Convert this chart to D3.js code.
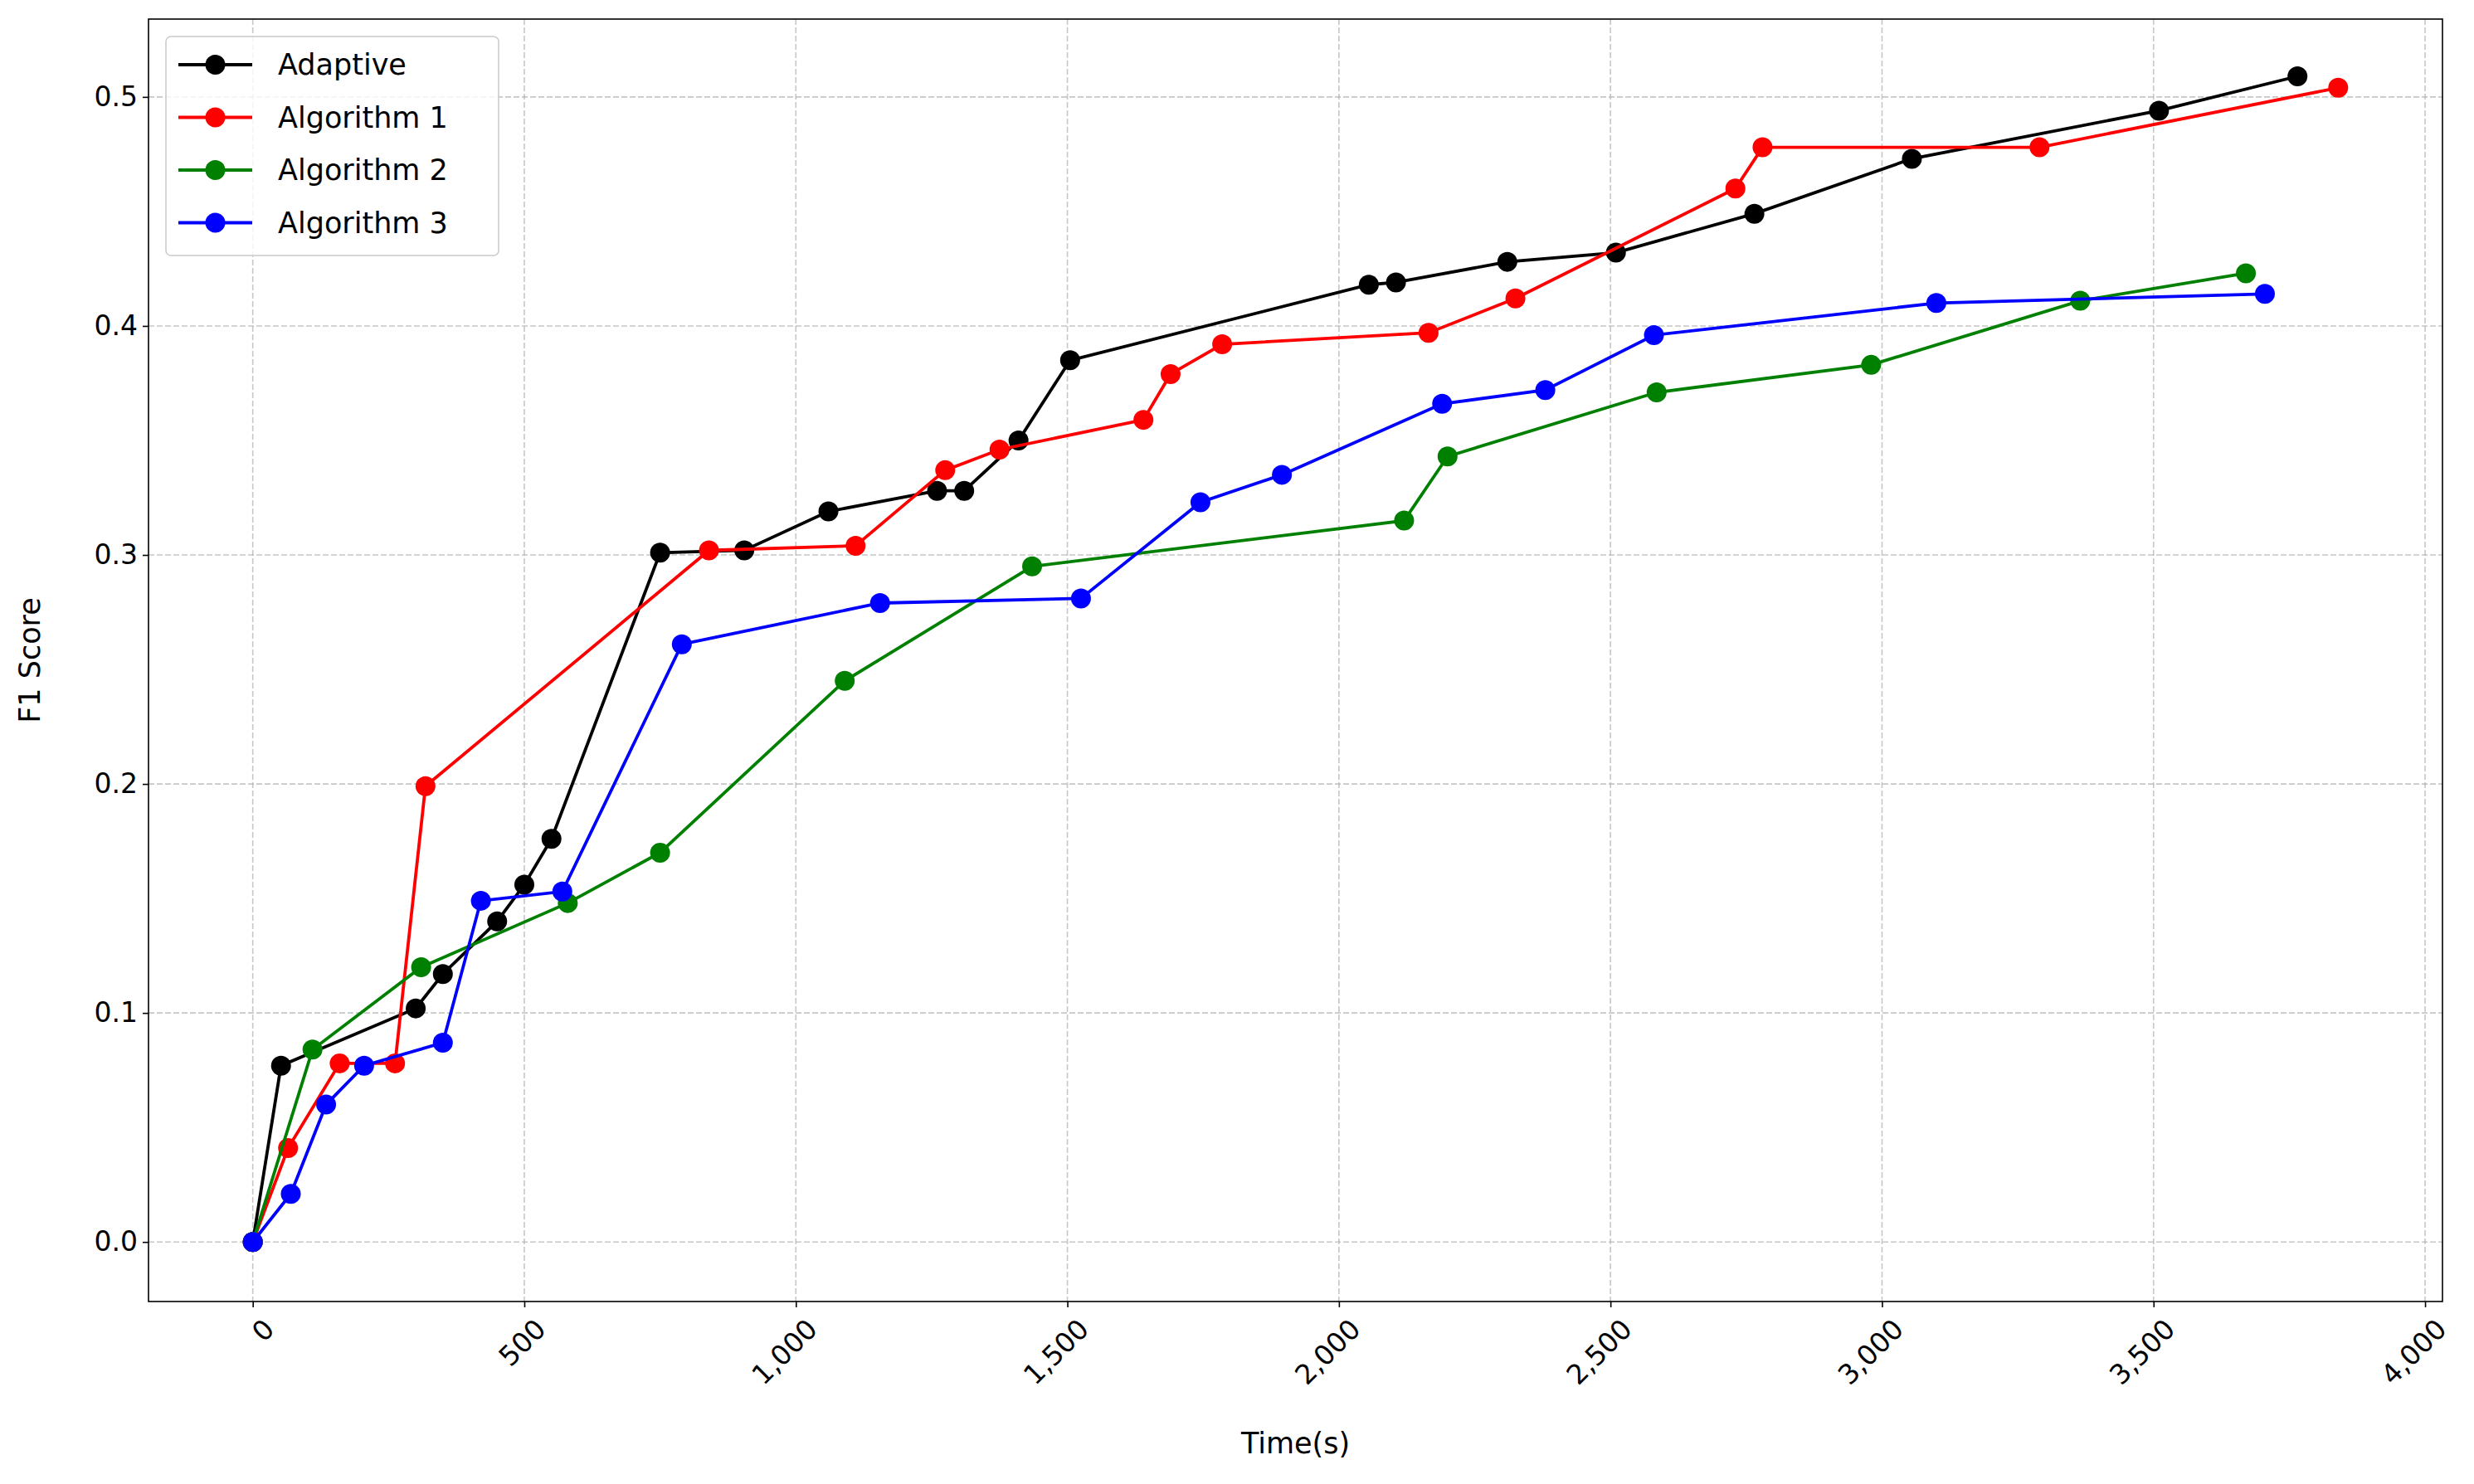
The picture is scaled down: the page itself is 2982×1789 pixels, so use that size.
<!DOCTYPE html>
<html>
<head>
<meta charset="utf-8">
<script src="https://cdn.jsdelivr.net/npm/d3@7"></script>
<style>
  body { margin: 0; background: #fff; }
  text { font-family: "DejaVu Sans", sans-serif; }
</style>
</head>
<body>
<svg id="chart" width="2982" height="1789"></svg>
<script>
// series values
const adaptiveX = [0, 52, 300, 350, 450, 500, 550, 750, 905, 1060, 1260, 1310, 1410, 1505, 2055, 2105, 2310, 2510, 2765, 3055, 3510, 3765];
const adaptiveY = [0, 0.077, 0.102, 0.117, 0.140, 0.156, 0.176, 0.301, 0.302, 0.319, 0.328, 0.328, 0.350, 0.385, 0.418, 0.419, 0.428, 0.432, 0.449, 0.473, 0.494, 0.509];
const algo1X = [0, 65, 160, 262, 318, 840, 1110, 1275, 1375, 1640, 1690, 1785, 2165, 2325, 2730, 2780, 3290, 3840];
const algo1Y = [0, 0.041, 0.078, 0.078, 0.199, 0.302, 0.304, 0.337, 0.346, 0.359, 0.379, 0.392, 0.397, 0.412, 0.460, 0.478, 0.478, 0.504];
const algo2X = [0, 110, 310, 580, 750, 1090, 1435, 2120, 2200, 2585, 2980, 3365, 3670];
const algo2Y = [0, 0.084, 0.120, 0.148, 0.170, 0.245, 0.295, 0.315, 0.343, 0.371, 0.383, 0.411, 0.423];
const algo3X = [0, 70, 135, 205, 350, 420, 570, 790, 1155, 1525, 1745, 1895, 2190, 2380, 2580, 3100, 3705];
const algo3Y = [0, 0.021, 0.060, 0.077, 0.087, 0.149, 0.153, 0.261, 0.279, 0.281, 0.323, 0.335, 0.366, 0.372, 0.396, 0.410, 0.414];

const seriesNames = ["Adaptive", "Algorithm 1", "Algorithm 2", "Algorithm 3"];
const seriesColors = ["black", "red", "green", "blue"];
const xTicks = [0, 500, 1000, 1500, 2000, 2500, 3000, 3500, 4000];
const yTicks = [0, 0.1, 0.2, 0.3, 0.4, 0.5];

const series = [
  [adaptiveX, adaptiveY], [algo1X, algo1Y], [algo2X, algo2Y], [algo3X, algo3Y]
].map(([xs, ys], i) => ({
  name: seriesNames[i], color: seriesColors[i],
  points: xs.map((x, j) => ({ x: x, y: ys[j] }))
}));

const svg = d3.select("#chart");
const mLeft = 179, mRight = 2944, mTop = 23, mBottom = 1569;

const x = d3.scaleLinear().domain([-192, 4032]).range([mLeft, mRight]);
const y = d3.scaleLinear().domain([-0.026, 0.534]).range([mBottom, mTop]);

// grid
const grid = svg.append("g");
grid.selectAll(".gx").data(xTicks).join("line")
  .attr("x1", d => x(d)).attr("x2", d => x(d)).attr("y1", mTop).attr("y2", mBottom)
  .attr("stroke", "#b0b0b0").attr("stroke-width", 1.6).attr("stroke-dasharray", "7,3").attr("opacity", 0.7);
grid.selectAll(".gy").data(yTicks).join("line")
  .attr("y1", d => y(d)).attr("y2", d => y(d)).attr("x1", mLeft).attr("x2", mRight)
  .attr("stroke", "#b0b0b0").attr("stroke-width", 1.6).attr("stroke-dasharray", "7,3").attr("opacity", 0.7);

// axes
const xAxis = svg.append("g").attr("transform", `translate(0,${mBottom})`)
  .call(d3.axisBottom(x).tickValues(xTicks).tickSize(7).tickPadding(6).tickSizeOuter(0));
xAxis.selectAll("text")
  .attr("font-size", 33).attr("text-anchor", "end").attr("dy", "0.35em").attr("dx", 0)
  .attr("transform", "translate(10,18) rotate(-45)");

const yAxis = svg.append("g").attr("transform", `translate(${mLeft},0)`)
  .call(d3.axisLeft(y).tickValues(yTicks).tickFormat(d3.format(".1f")).tickSize(7).tickPadding(6).tickSizeOuter(0));
yAxis.selectAll("text").attr("font-size", 33);

svg.selectAll(".domain").remove();
svg.selectAll(".tick line").attr("stroke", "#000").attr("stroke-width", 1.6);
svg.append("rect").attr("x", mLeft).attr("y", mTop).attr("width", mRight - mLeft).attr("height", mBottom - mTop)
  .attr("fill", "none").attr("stroke", "#000").attr("stroke-width", 1.6);

// labels
svg.append("text").attr("x", (mLeft + mRight) / 2).attr("y", 1752).attr("text-anchor", "middle")
  .attr("font-size", 35).text("Time(s)");
svg.append("text").attr("transform", `translate(48,${(mTop + mBottom) / 2}) rotate(-90)`)
  .attr("text-anchor", "middle").attr("font-size", 35).text("F1 Score");

// lines and markers
const line = d3.line().x(d => x(d.x)).y(d => y(d.y));
series.forEach(s => {
  const g = svg.append("g");
  g.append("path").datum(s.points).attr("d", line)
    .attr("fill", "none").attr("stroke", s.color).attr("stroke-width", 3.8);
  g.selectAll("circle").data(s.points).join("circle")
    .attr("cx", d => x(d.x)).attr("cy", d => y(d.y)).attr("r", 12).attr("fill", s.color);
});

// legend
const legend = svg.append("g");
legend.append("rect").attr("x", 200).attr("y", 44).attr("width", 401).attr("height", 264).attr("rx", 6)
  .attr("fill", "#fff").attr("fill-opacity", 0.8).attr("stroke", "#ccc").attr("stroke-width", 1.6);
series.forEach((s, i) => {
  const cy = 78 + i * 63.5;
  legend.append("line").attr("x1", 215).attr("x2", 304).attr("y1", cy).attr("y2", cy)
    .attr("stroke", s.color).attr("stroke-width", 3.8);
  legend.append("circle").attr("cx", 259.5).attr("cy", cy).attr("r", 12).attr("fill", s.color);
  legend.append("text").attr("x", 335).attr("y", cy).attr("dy", "0.35em").attr("font-size", 35).text(s.name);
});
</script>
</body>
</html>
